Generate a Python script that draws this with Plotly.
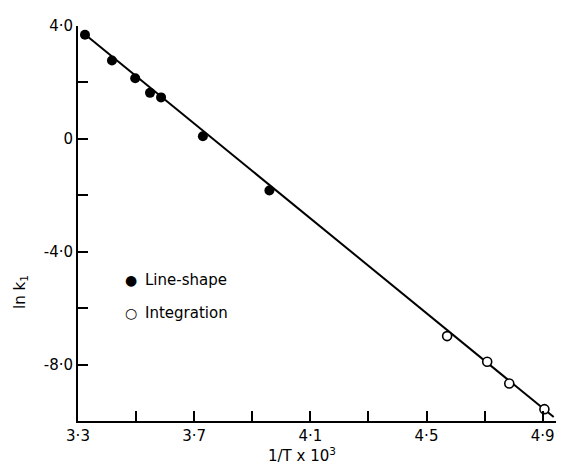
import plotly.graph_objects as go

# Line-shape (filled) points
ls_x = [3.324, 3.417, 3.497, 3.548, 3.586, 3.730, 3.959]
ls_y = [3.69, 2.78, 2.15, 1.63, 1.47, 0.09, -1.83]

# Integration (open) points
int_x = [4.571, 4.709, 4.785, 4.906]
int_y = [-6.99, -7.90, -8.67, -9.58]

# Fitted straight line endpoints
fit_x = [3.315, 4.938]
fit_y = [3.78, -9.86]

x_tickvals = [3.3, 3.7, 4.1, 4.5, 4.9]
x_ticktext = ["3·3", "3·7", "4·1", "4·5", "4·9"]
x_minorvals = [3.5, 3.9, 4.3, 4.7]
y_tickvals = [4.0, 0.0, -4.0, -8.0]
y_ticktext = ["4·0", "0", "-4·0", "-8·0"]
y_minorvals = [2.0, -2.0, -6.0]

FONT = "DejaVu Sans"
W, H = 564, 468
OFF = 8  # page body margin
ML, MR, MT, MB = 70, 9, 12, 55

fig = go.Figure()
fig.add_trace(go.Scatter(x=fit_x, y=fit_y, mode="lines",
                         line=dict(color="black", width=2), showlegend=False))
fig.add_trace(go.Scatter(x=ls_x, y=ls_y, mode="markers", name="Line-shape",
                         marker=dict(color="black", size=10, line=dict(width=0)),
                         showlegend=False))
fig.add_trace(go.Scatter(x=int_x, y=int_y, mode="markers", name="Integration",
                         marker=dict(color="white", size=9, line=dict(color="black", width=1.6)),
                         showlegend=False))

pw = W - ML - MR
ph = H - MT - MB


def px2paper(sx, sy):
    fx = sx - OFF
    fy = sy - OFF
    return (fx - ML) / pw, 1 - (fy - MT) / ph


tx, ty = px2paper(302, 456)
yx, yy = px2paper(21, 290)

minor_style = dict(ticks="inside", ticklen=10, tickwidth=2, tickcolor="black",
                   showgrid=False, tickmode="array")

fig.update_layout(
    width=W, height=H,
    margin=dict(l=ML, r=MR, t=MT, b=MB),
    plot_bgcolor="white", paper_bgcolor="white",
    font=dict(family=FONT, size=15, color="black"),
    xaxis=dict(range=[3.3, 4.97], showline=True, linecolor="black", linewidth=2,
               ticks="inside", ticklen=10, tickwidth=2, tickcolor="black",
               tickmode="array", tickvals=x_tickvals, ticktext=x_ticktext,
               minor=dict(tickvals=x_minorvals, **minor_style),
               showgrid=False, zeroline=False, tickfont=dict(size=15)),
    yaxis=dict(range=[-10.0, 4.0], showline=True, linecolor="black", linewidth=2,
               ticks="inside", ticklen=10, tickwidth=2, tickcolor="black",
               tickmode="array", tickvals=y_tickvals, ticktext=y_ticktext,
               minor=dict(tickvals=y_minorvals, **minor_style),
               showgrid=False, zeroline=False, tickfont=dict(size=15)),
    annotations=[
        dict(x=3.483, y=-5.02, xref="x", yref="y", text="●", showarrow=False,
             font=dict(size=14), xanchor="center", yanchor="middle"),
        dict(x=3.525, y=-5.02, xref="x", yref="y", text="Line-shape", showarrow=False,
             font=dict(size=15), xanchor="left", yanchor="middle"),
        dict(x=3.483, y=-6.17, xref="x", yref="y", text="○", showarrow=False,
             font=dict(size=14), xanchor="center", yanchor="middle"),
        dict(x=3.525, y=-6.17, xref="x", yref="y", text="Integration", showarrow=False,
             font=dict(size=15), xanchor="left", yanchor="middle"),
        dict(x=tx, y=ty, xref="paper", yref="paper", text="1/T x 10<sup>3</sup>",
             showarrow=False, font=dict(size=15), xanchor="center", yanchor="middle"),
        dict(x=yx, y=yy, xref="paper", yref="paper", text="ln k<sub>1</sub>",
             showarrow=False, textangle=-90, font=dict(size=15),
             xanchor="center", yanchor="middle"),
    ],
)

fig.write_html("out.html")
